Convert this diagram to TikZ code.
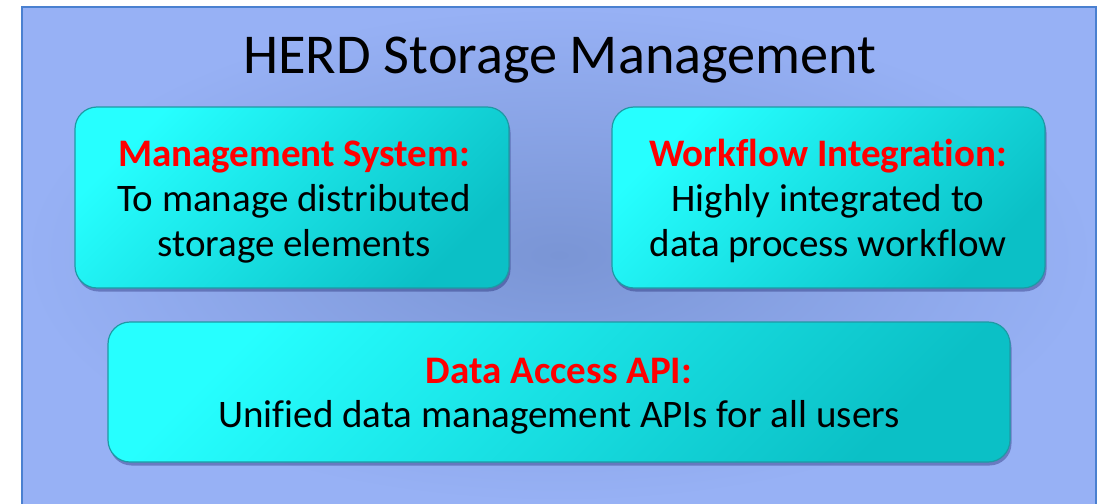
\documentclass[tikz,border=0pt]{standalone}
\usepackage{fontspec}
\setmainfont{Carlito}[Ligatures=NoCommon]
\usetikzlibrary{shadows}
\definecolor{bgin}{HTML}{7A95D5}
\definecolor{bgout}{HTML}{97B1F5}
\definecolor{frameblue}{HTML}{4A80D0}
\definecolor{cyanlt}{HTML}{26FFFF}
\definecolor{cyandk}{HTML}{0BC0C6}
\definecolor{boxedge}{HTML}{1E9AA5}
\definecolor{headred}{HTML}{FF0000}
\begin{document}
\begin{tikzpicture}[x=1pt,y=-1pt,
  card/.style={draw=boxedge, line width=1.2pt, rounded corners=22pt,
    top color=cyanlt, bottom color=cyandk, shading angle=45,
    drop shadow={shadow xshift=1.5pt, shadow yshift=-3.5pt, opacity=0.3, fill=black!70!blue},
    inner sep=0pt},
  line/.style={anchor=base, inner sep=0pt, font=\fontsize{39}{45}\selectfont},
  headline/.style={line, text=headred, font=\fontsize{39}{45}\selectfont\bfseries}]
\useasboundingbox (0,0) rectangle (1099,503);
\fill[white] (0,0) rectangle (1099,503);
\path[shading=radial, inner color=bgin, outer color=bgout] (22,7) rectangle (1096,503);
\draw[frameblue, line width=1.3pt] (22,510) -- (22,7) -- (1096,7) -- (1096,510);
\node[anchor=base, inner sep=0pt, font=\fontsize{56.3}{60}\selectfont] (title) at (560,73) {HERD Storage Management};
\node[card, minimum width=434pt, minimum height=181pt] (mgmt) at (292,197.5) {};
\node[card, minimum width=433pt, minimum height=181pt] (flow) at (828.5,197.5) {};
\node[card, minimum width=902pt, minimum height=140pt] (api) at (559,392) {};
\node[headline] (mgmt1) at (294,166) {Management System:};
\node[line] (mgmt2) at (294,211) {To manage distributed};
\node[line] (mgmt3) at (294,256) {storage elements};
\node[headline] (flow1) at (828,166) {Workflow Integration:};
\node[line] (flow2) at (828,211) {Highly integrated to};
\node[line] (flow3) at (828,256) {data process workflow};
\node[headline] (api1) at (559,383) {Data Access API:};
\node[line] (api2) at (559,427) {Unified data management APIs for all users};
\end{tikzpicture}
\end{document}
